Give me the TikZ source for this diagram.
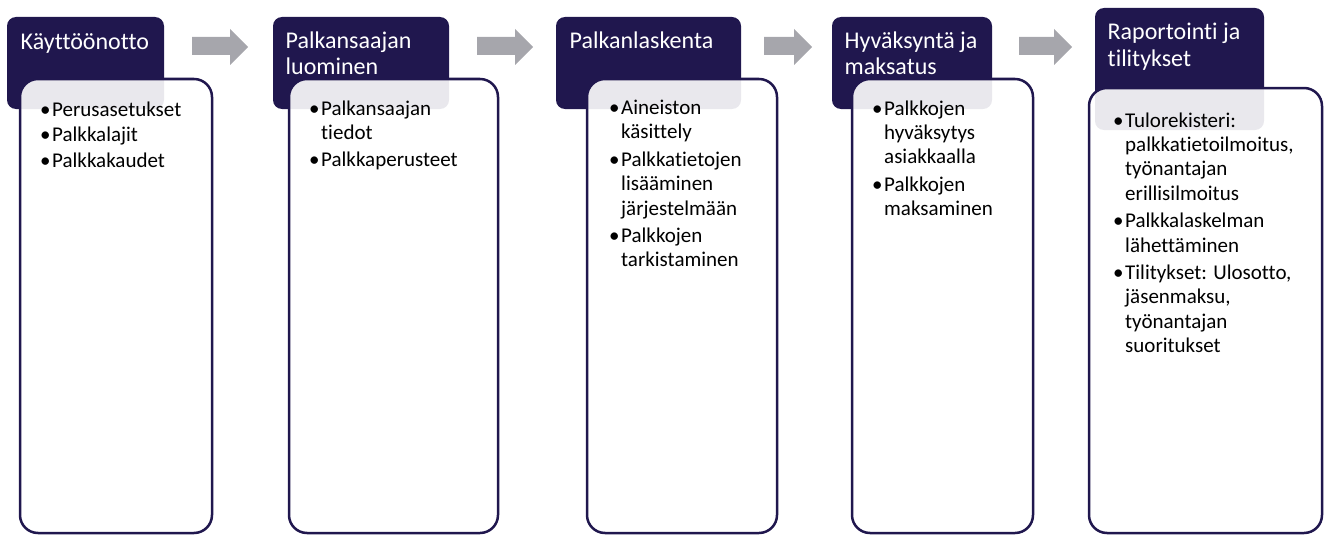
\documentclass[tikz,border=0pt]{standalone}
\usepackage{fontspec}
\setmainfont{Carlito}[Ligatures={NoCommon}]
\definecolor{navy}{RGB}{32,23,78}
\definecolor{arrgray}{RGB}{166,166,172}
\tikzset{
  hdr/.style={fill=navy, rounded corners=9pt},
  bodybox/.style={draw=navy, line width=2.5pt, fill=white, fill opacity=0.9, draw opacity=1, rounded corners=18pt},
  htext/.style={anchor=base west, inner sep=0pt, text=white, font=\fontsize{24}{26.5}\selectfont},
  btext/.style={anchor=base west, inner sep=0pt, text=black, font=\fontsize{21}{24.4}\selectfont},
  garrow/.style={fill=arrgray}
}
\newcommand\bl{\makebox[12pt][l]{\textbullet}}
\newcommand\garr[2]{\fill[garrow] (#1,37) -- (#2-18,37) -- (#2-18,29) -- (#2,47) -- (#2-18,65) -- (#2-18,55) -- (#1,55) -- cycle;}
\begin{document}
\begin{tikzpicture}[x=1pt,y=-1pt]
\useasboundingbox (0,0) rectangle (1325,535);
% arrows
\garr{192}{248}
\garr{477}{533}
\garr{764}{812}
\garr{1019}{1072}
% column 1
\fill[hdr] (7,17) rectangle (164,109);
\node[htext] (h1) at (20.5,49) {Käyttöönotto};
\path[bodybox] (20,79) rectangle (212,533);
\node[btext] (b1) at (40,116) {\begin{tabular}[t]{@{}l@{}l@{}}
\bl & Perusasetukset\\[1.5pt]
\bl & Palkkalajit\\[1.5pt]
\bl & Palkkakaudet
\end{tabular}};
% column 2
\fill[hdr] (273,17) rectangle (449,109);
\node[htext] (h2) at (285.5,48.5) {\begin{tabular}[t]{@{}l@{}}Palkansaajan\\luominen\end{tabular}};
\path[bodybox] (289,79) rectangle (498,533);
\node[btext] (b2) at (309,115) {\begin{tabular}[t]{@{}l@{}l@{}}
\bl & Palkansaajan\\
 & tiedot\\[3pt]
\bl & Palkkaperusteet
\end{tabular}};
% column 3
\fill[hdr] (556,17) rectangle (741,109);
\node[htext] (h3) at (569.5,48.5) {Palkanlaskenta};
\path[bodybox] (587,79) rectangle (777,533);
\node[btext] (b3) at (609,114.5) {\begin{tabular}[t]{@{}l@{}l@{}}
\bl & Aineiston\\
 & käsittely\\[3pt]
\bl & Palkkatietojen\\
 & lisääminen\\
 & järjestelmään\\[3pt]
\bl & Palkkojen\\
 & tarkistaminen
\end{tabular}};
% column 4
\fill[hdr] (832,17) rectangle (992,109);
\node[htext] (h4) at (844.5,48.5) {\begin{tabular}[t]{@{}l@{}}Hyväksyntä ja\\maksatus\end{tabular}};
\path[bodybox] (852,79) rectangle (1033,533);
\node[btext] (b4) at (872,115) {\begin{tabular}[t]{@{}l@{}l@{}}
\bl & Palkkojen\\
 & hyväksytys\\
 & asiakkaalla\\[3pt]
\bl & Palkkojen\\
 & maksaminen
\end{tabular}};
% column 5
\fill[hdr] (1095,8) rectangle (1264,130);
\node[htext] (h5) at (1107.5,40) {\begin{tabular}[t]{@{}l@{}}Raportointi ja\\tilitykset\end{tabular}};
\path[bodybox] (1089,88) rectangle (1322,533);
\node[btext] (b5) at (1113,127) {\begin{tabular}[t]{@{}l@{}l@{}}
\bl & Tulorekisteri:\\
 & palkkatietoilmoitus,\\
 & työnantajan\\
 & erillisilmoitus\\[3pt]
\bl & Palkkalaskelman\\
 & lähettäminen\\[3pt]
\bl & Tilitykset: Ulosotto,\\
 & jäsenmaksu,\\
 & työnantajan\\
 & suoritukset
\end{tabular}};
\end{tikzpicture}
\end{document}
